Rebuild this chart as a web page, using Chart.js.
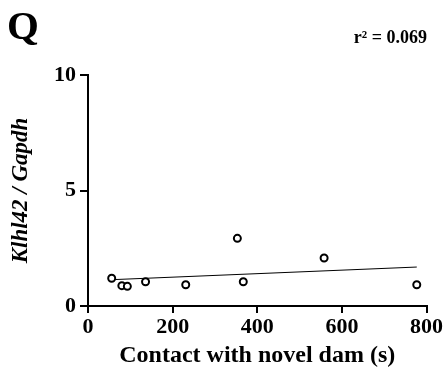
<!DOCTYPE html>
<html>
<head>
<meta charset="utf-8">
<script src="https://cdn.jsdelivr.net/npm/chart.js@4/dist/chart.umd.min.js"></script>
<style>
  html, body { margin: 0; padding: 0; background: #fff; }
  #wrap { width: 444px; height: 377px; position: relative; }
</style>
</head>
<body>
<div id="wrap"><canvas id="corrChart" width="444" height="377"></canvas></div>
<script>
// contact time (s) and relative expression, one entry per animal
const contactTime = [56, 80, 93, 136, 231, 353, 367, 558, 777];
const expression = [1.20, 0.88, 0.85, 1.05, 0.92, 2.93, 1.05, 2.08, 0.92];
const xTicks = [0, 200, 400, 600, 800];
const yTicks = [0, 5, 10];
const rSquaredLabel = 'r² = 0.069';

// least squares fit for the trend line
const n = contactTime.length;
const mx = contactTime.reduce((a, b) => a + b, 0) / n;
const my = expression.reduce((a, b) => a + b, 0) / n;
let sxy = 0, sxx = 0;
contactTime.forEach((x, i) => { sxy += (x - mx) * (expression[i] - my); sxx += (x - mx) * (x - mx); });
const slope = sxy / sxx;
const intercept = my - slope * mx;
const xMin = Math.min(...contactTime), xMax = Math.max(...contactTime);
const fitLine = [xMin, xMax].map(x => ({ x: x, y: intercept + slope * x }));

const serif = '"Liberation Serif", "Times New Roman", serif';

// panel letter and r² text
const panelText = {
  id: 'panelText',
  afterDraw(chart) {
    const c = chart.ctx;
    c.save();
    c.fillStyle = '#000';
    c.textBaseline = 'alphabetic';
    c.font = 'bold 41px ' + serif;
    c.textAlign = 'left';
    c.fillText('Q', 7, 39);
    c.font = 'bold 18px ' + serif;
    c.textAlign = 'right';
    c.fillText(rSquaredLabel, 427, 43);
    c.restore();
  }
};

new Chart(document.getElementById('corrChart'), {
  type: 'scatter',
  data: {
    datasets: [{
      label: 'Samples',
      data: contactTime.map((x, i) => ({ x: x, y: expression[i] })),
      pointRadius: 3.5,
      pointBorderWidth: 2,
      pointBackgroundColor: '#fff',
      pointBorderColor: '#000'
    }, {
      type: 'line',
      label: 'Fit',
      data: fitLine,
      borderColor: '#000',
      borderWidth: 1,
      pointRadius: 0,
      fill: false
    }]
  },
  options: {
    responsive: false,
    animation: false,
    layout: { padding: { top: 75, right: 17, bottom: 2, left: 0 } },
    plugins: { legend: { display: false }, tooltip: { enabled: false } },
    scales: {
      x: {
        type: 'linear',
        min: 0,
        max: 800,
        afterBuildTicks: s => { s.ticks = xTicks.map(v => ({ value: v })); },
        afterFit: s => { s.height = 69; },
        ticks: { color: '#000', padding: 1, font: { family: serif, size: 22, weight: 'bold' } },
        grid: { drawOnChartArea: false, drawTicks: true, tickLength: 7, color: '#000', lineWidth: 2 },
        border: { color: '#000', width: 2 },
        title: {
          display: true,
          text: 'Contact with novel dam (s)',
          color: '#000',
          padding: { top: 0, bottom: 5 },
          font: { family: serif, size: 24, weight: 'bold' }
        }
      },
      y: {
        min: 0,
        max: 10,
        afterBuildTicks: s => { s.ticks = yTicks.map(v => ({ value: v })); },
        afterFit: s => { s.width = 88; },
        ticks: { color: '#000', padding: 4, font: { family: serif, size: 22, weight: 'bold' } },
        grid: { drawOnChartArea: false, drawTicks: true, tickLength: 8, color: '#000', lineWidth: 2 },
        border: { color: '#000', width: 2 },
        title: {
          display: true,
          text: 'Klhl42 / Gapdh',
          color: '#000',
          padding: { top: 7, bottom: 0 },
          font: { family: serif, size: 23, weight: 'bold', style: 'italic' }
        }
      }
    }
  },
  plugins: [panelText]
});
</script>
</body>
</html>
